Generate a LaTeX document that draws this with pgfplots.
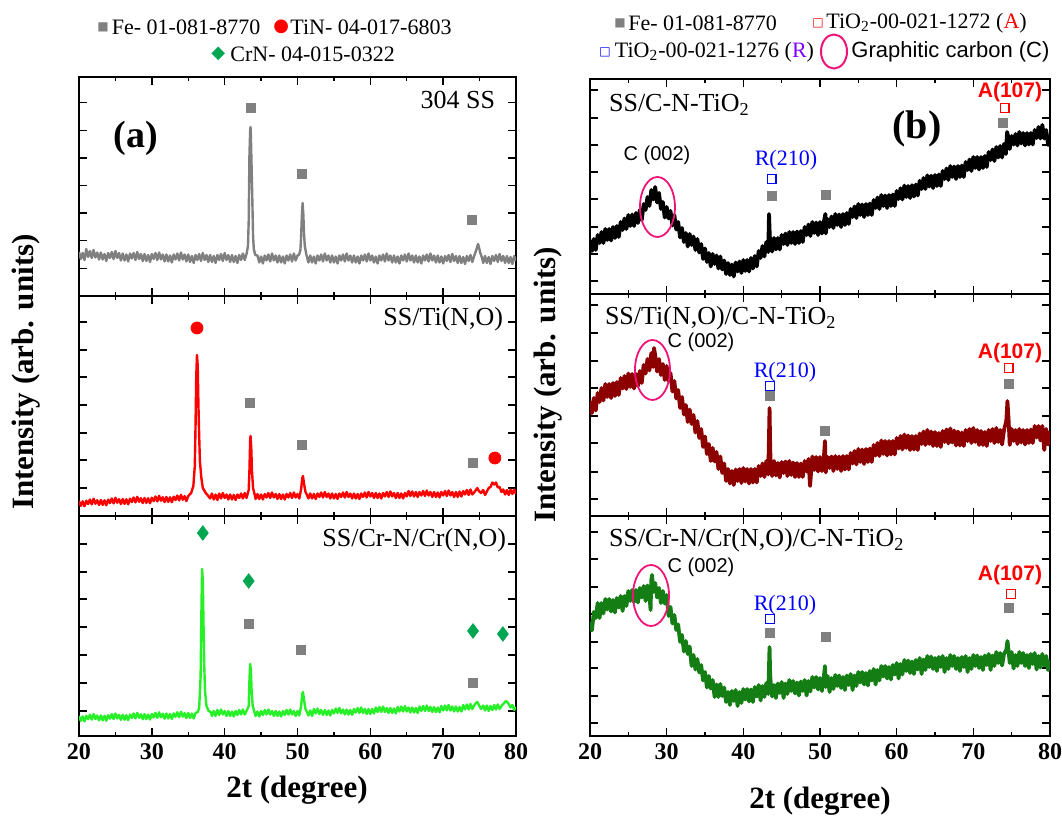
\documentclass[border=0pt]{standalone}
\usepackage{pgfplots}
\pgfplotsset{compat=1.18}
\usepackage{fontspec}
\setmainfont{Liberation Serif}
\setsansfont{Liberation Sans}
\newfontfamily\symfont{DejaVu Sans}

\definecolor{fegray}{RGB}{128,128,128}
\definecolor{tinred}{RGB}{255,0,0}
\definecolor{crgreen}{RGB}{0,166,81}
\definecolor{lgreen}{RGB}{40,240,40}
\definecolor{dred}{RGB}{140,0,0}
\definecolor{dgreen}{RGB}{20,125,20}
\definecolor{cmag}{RGB}{240,20,120}
\definecolor{rblue}{RGB}{0,0,255}
\definecolor{rpurple}{RGB}{128,0,255}

\pgfplotsset{
  xrd/.style={
    scale only axis, anchor=south west,
    xmin=20, xmax=80, ymin=0,
    xtick={20,30,...,80}, minor x tick num=1,
    tick align=inside, major tick length=4pt, minor tick length=2pt,
    yticklabels={},
    axis line style={line width=0.8pt},
    every tick/.style={black, line width=0.7pt},
    clip mode=individual,
    /pgf/number format/assume math mode=true,
    x tick label style={font=\fontsize{12}{14}\selectfont\bfseries},
  },
  notick/.style={xticklabels={}},
  left xrd/.style={line width=1.2pt, line join=round},
  right xrd/.style={line width=1.9pt, line join=round},
  fe/.style={only marks, mark=square*, mark size=2.25pt, fegray},
  tin/.style={only marks, mark=*, mark size=3pt, tinred},
  crn/.style={only marks, mark=diamond*, mark size=3.6pt, crgreen},
  rut/.style={only marks, mark=square, mark size=2.2pt, rblue, mark options={line width=0.7pt}},
  ana/.style={only marks, mark=square, mark size=2.2pt, tinred, mark options={line width=0.7pt}},
}
\tikzset{
  lab/.style={font=\fontsize{13}{15}\selectfont},
  cfont/.style={font=\sffamily\fontsize{10}{12}\selectfont},
  rfont/.style={font=\fontsize{11}{13}\selectfont, text=rblue},
  afont/.style={font=\sffamily\bfseries\fontsize{10.5}{12}\selectfont, text=tinred},
  ttl/.style={font=\fontsize{15.5}{18}\selectfont\bfseries},
}

\begin{document}
\begin{tikzpicture}
\useasboundingbox (0,0) rectangle (531pt,409pt);

% ---------- (a) top: 304 SS
\begin{axis}[xrd, notick, at={(39.5pt,261pt)}, width=218.5pt, height=109.5pt, ymax=219,
  ytick={27.6,55.2,82.8,110.4,138,165.6,193.2}]
\addplot[fegray, left xrd] coordinates {
(20,44) (20.25,37) (20.5,43) (20.75,36) (21,47) (21.25,39) (21.5,45) (21.75,38) (22,46) (22.25,38.5)
(22.5,43.5) (22.75,36.5) (23,43.5) (23.25,36.5) (23.5,42) (23.75,35) (24,43) (24.25,38) (24.5,44) (24.75,37)
(25,45) (25.25,38) (25.5,43) (25.75,35.5) (26,42.5) (26.25,35.5) (26.5,41.5) (26.75,34.5) (27,42.5) (27.25,37.5)
(27.5,43) (27.75,36) (28,44) (28.25,37) (28.5,42) (28.75,35) (29,42) (29.25,35) (29.5,41) (29.75,34)
(30,42) (30.25,37) (30.5,43) (30.75,36) (31,43.5) (31.25,36.5) (31.5,41.5) (31.75,34.5) (32,41.5) (32.25,34.5)
(32.5,40.5) (32.75,33.5) (33,41.5) (33.25,36.5) (33.5,42.5) (33.75,35.5) (34,43.5) (34.25,36.5) (34.5,41.5) (34.75,34.5)
(35,41.5) (35.25,34) (35.5,40) (35.75,33) (36,41) (36.25,36) (36.5,42) (36.75,35) (37,43) (37.25,36)
(37.5,41) (37.75,34) (38,41) (38.25,34) (38.5,40) (38.75,33) (39,41) (39.25,36) (39.5,42) (39.75,35)
(40,43) (40.25,36) (40.5,41) (40.75,34) (41,41) (41.25,34) (41.5,40) (41.75,33) (42,41) (42.25,36)
(42.5,42.5) (42.75,36) (43.0,42) (43.2,50) (43.3,75) (43.4,140) (43.5,165) (43.55,169) (43.6,160) (43.7,128)
(43.8,95) (43.9,60) (44.0,47) (44.2,41) (44.5,40.5) (44.75,33.5) (45,39.5) (45.25,32.5) (45.5,40.5) (45.75,35.5)
(46,41.5) (46.25,34.5) (46.5,42.5) (46.75,35.5) (47,40.5) (47.25,33.5) (47.5,40.5) (47.75,33.5) (48,39.5) (48.25,32.5)
(48.5,40.5) (48.75,35.5) (49,41.5) (49.25,34.5) (49.5,42.5) (49.75,35.5) (50.0,40.5) (50.2,41) (50.4,46) (50.5,60)
(50.6,80) (50.7,93) (50.8,82) (50.9,62) (51.0,50) (51.2,42) (51.5,33.5) (51.75,40.5) (52,33.5) (52.25,39.5)
(52.5,32.5) (52.75,40.5) (53,35.5) (53.25,41.5) (53.5,34.5) (53.75,42.5) (54,35.5) (54.25,40.5) (54.5,33.5) (54.75,40.5)
(55,33.5) (55.25,39.5) (55.5,32.5) (55.75,40.5) (56,35.5) (56.25,41.5) (56.5,34.5) (56.75,42.5) (57,35.5) (57.25,40.5)
(57.5,33.5) (57.75,40.5) (58,33.5) (58.25,39.5) (58.5,32.5) (58.75,40.5) (59,35.5) (59.25,41.5) (59.5,34.5) (59.75,42.5)
(60,35.5) (60.25,40.5) (60.5,33.5) (60.75,39.5) (61,32.5) (61.25,40.5) (61.5,35.5) (61.75,41.5) (62,34.5) (62.25,42.5)
(62.5,35.5) (62.75,40.5) (63,33.5) (63.25,40.5) (63.5,33.5) (63.75,39.5) (64,32.5) (64.25,40.5) (64.5,35.5) (64.75,41.5)
(65,34.5) (65.25,42.5) (65.5,35.5) (65.75,40.5) (66,33.5) (66.25,40.5) (66.5,33.5) (66.75,39.5) (67,32.5) (67.25,40.5)
(67.5,35.5) (67.75,41.5) (68,34.5) (68.25,42.5) (68.5,35.5) (68.75,40.5) (69,33.5) (69.25,40.5) (69.5,33.5) (69.75,39.5)
(70,32.5) (70.25,40) (70.5,35) (70.75,41) (71,34) (71.25,42) (71.5,35) (71.75,40) (72,33) (72.25,40)
(72.5,33) (72.75,39) (73,32) (73.25,40) (73.5,35) (73.75,41) (74,34) (74.25,40) (74.5,45) (74.7,50)
(74.8,52) (74.9,49) (75.1,43) (75.3,39) (75.5,33) (75.75,40) (76,33) (76.25,39) (76.5,32) (76.75,40)
(77,35) (77.25,41) (77.5,34) (77.75,42) (78,35) (78.25,40) (78.5,33) (78.75,40) (79,33) (79.25,39)
(79.5,32) (79.75,40) (80,35)
};
\addplot[fe] coordinates {(43.6,188) (50.6,122) (73.9,76)};
\node[lab, anchor=east] at (axis cs:78.1,196) {304 SS};
\node[font=\fontsize{19}{22}\selectfont\bfseries] at (axis cs:27.8,158) {(a)};
\end{axis}

% ---------- (a) middle: SS/Ti(N,O)
\begin{axis}[xrd, notick, at={(39.5pt,151pt)}, width=218.5pt, height=110pt, ymax=220,
  ytick={28,56,83,111,139,166,194}]
\addplot[tinred, left xrd] coordinates {
(20,15) (20.25,10.1) (20.5,14.7) (20.75,9.75) (21,15.3) (21.25,11.9) (21.5,16.5) (21.75,11.6) (22,17.2) (22.25,12.25)
(22.5,15.8) (22.75,10.9) (23,16) (23.25,11.1) (23.5,15.7) (23.75,10.75) (24,16.3) (24.25,12.9) (24.5,17.5) (24.75,12.6)
(25,18.2) (25.25,13.25) (25.5,16.8) (25.75,11.9) (26,17) (26.25,12.1) (26.5,16.7) (26.75,11.75) (27,17.3) (27.25,13.9)
(27.5,18.5) (27.75,13.6) (28,19.2) (28.25,14.25) (28.5,17.8) (28.75,12.9) (29,18) (29.25,13.1) (29.5,17.7) (29.75,12.75)
(30,18.3) (30.25,14.9) (30.5,19.5) (30.75,14.6) (31,20.2) (31.25,15.25) (31.5,18.8) (31.75,13.9) (32,19) (32.25,14.1)
(32.5,18.7) (32.75,13.75) (33,19.3) (33.25,15.9) (33.5,20.5) (33.75,15.6) (34,21.2) (34.25,16.25) (34.5,19.8) (34.75,14.9)
(35,20) (35.4,23) (35.7,30) (35.9,50) (36.0,90) (36.1,140) (36.2,161) (36.3,150) (36.4,110) (36.5,80)
(36.6,55) (36.8,38) (37.0,28) (37.4,23) (37.75,20) (38,17.5) (38.25,22.5) (38.5,16.5) (38.75,21.5) (39,16)
(39.25,22.5) (39.5,17.5) (39.75,23) (40,18) (40.25,21.5) (40.5,16.5) (40.75,21.5) (41,16.5) (41.25,21) (41.5,16)
(41.75,21.5) (42,18) (42.25,22.5) (42.5,17.5) (42.75,23) (43.0,18) (43.3,26) (43.4,45) (43.5,75) (43.55,80)
(43.65,68) (43.75,45) (43.9,28) (44.1,22) (44.25,17) (44.5,22) (44.75,17) (45,21.5) (45.25,16.5) (45.5,22)
(45.75,18.5) (46,23) (46.25,18) (46.5,23.5) (46.75,18.5) (47,22) (47.25,17) (47.5,22) (47.75,17) (48,21.5)
(48.25,16.5) (48.5,22) (48.75,18.5) (49,23) (49.25,18) (49.5,23.5) (49.75,18.5) (50,22) (50.25,17.5) (50.5,27)
(50.65,38) (50.75,40) (50.9,32) (51.1,24) (51.3,21) (51.5,17.5) (51.75,22.5) (52,17.5) (52.25,22) (52.5,17)
(52.75,22.5) (53,19) (53.25,23.5) (53.5,18.5) (53.75,24) (54,19) (54.25,22.5) (54.5,17.5) (54.75,22.5) (55,17.5)
(55.25,22) (55.5,17) (55.75,22.5) (56,19) (56.25,23.5) (56.5,18.5) (56.75,24) (57,19) (57.25,22.5) (57.5,17.5)
(57.75,22.5) (58,17.5) (58.25,22) (58.5,17) (58.75,22.5) (59,19) (59.25,23.5) (59.5,18.5) (59.75,24) (60,19.5)
(60.25,23) (60.5,18) (60.75,23) (61,18) (61.25,22.5) (61.5,17.5) (61.75,23) (62,19.5) (62.25,24) (62.5,19)
(62.75,24.5) (63,19.5) (63.25,23) (63.5,18) (63.75,23) (64,18) (64.25,22.5) (64.5,17.5) (64.75,23) (65,19.5)
(65.25,25) (65.5,20) (65.75,24.5) (66,19.5) (66.25,24) (66.5,19) (66.75,24) (67,20.5) (67.25,25) (67.5,20)
(67.75,25.5) (68,20.5) (68.25,24) (68.5,19) (68.75,24) (69,19) (69.25,23.5) (69.5,18.5) (69.75,24) (70,20.5)
(70.25,25) (70.5,20) (70.75,25.5) (71,20.5) (71.25,24) (71.5,19) (71.75,24) (72,19) (72.25,24.5) (72.5,19.5)
(72.75,25) (73,21.5) (73.25,26) (73.5,21) (73.75,26.5) (74,21.5) (74.3,24) (74.5,26) (74.7,28) (74.9,25)
(75.2,23) (75.5,26) (75.75,21) (76,24.5) (76.25,28) (76.5,29) (76.75,33.5) (77,31.5) (77.25,33.5) (77.5,28.5)
(77.75,29) (78,24) (78.25,26.5) (78.5,21.5) (78.75,26) (79,21) (79.25,26.5) (79.5,22) (79.75,26.5) (80,22)
};
\addplot[fe] coordinates {(43.5,113) (50.6,71) (74.1,53)};
\addplot[tin] coordinates {(36.2,188) (77.1,58)};
\node[lab, anchor=east] at (axis cs:79.2,197) {SS/Ti(N,O)};
\end{axis}

% ---------- (a) bottom: SS/Cr-N/Cr(N,O)
\begin{axis}[xrd, at={(39.5pt,41pt)}, width=218.5pt, height=110pt, ymax=220,
  ytick={25,53,81,109,137,164,192}]
\addplot[lgreen, left xrd] coordinates {
(20,20) (20.25,15.1) (20.5,19.6) (20.75,14.65) (21,20.2) (21.25,16.75) (21.5,21.3) (21.75,16.35) (22,21.9) (22.25,16.95)
(22.5,20.5) (22.75,15.55) (23,20.6) (23.25,15.65) (23.5,20.2) (23.75,15.25) (24,20.8) (24.25,17.35) (24.5,21.9) (24.75,16.95)
(25,22.5) (25.25,17.55) (25.5,21.1) (25.75,16.15) (26,21.2) (26.25,16.25) (26.5,20.8) (26.75,15.85) (27,21.4) (27.25,17.95)
(27.5,22.5) (27.75,17.55) (28,23.1) (28.25,18.15) (28.5,21.7) (28.75,16.75) (29,21.8) (29.25,16.85) (29.5,21.4) (29.75,16.45)
(30,22) (30.25,18.55) (30.5,23.1) (30.75,18.15) (31,23.7) (31.25,18.75) (31.5,22.3) (31.75,17.35) (32,22.4) (32.25,17.45)
(32.5,22) (32.75,17.05) (33,22.6) (33.25,19.15) (33.5,23.7) (33.75,18.75) (34,24.3) (34.25,19.35) (34.5,22.9) (34.75,17.95)
(35,23) (35.25,18) (35.5,22.5) (35.75,17.5) (36,23) (36.3,24) (36.5,28) (36.7,60) (36.8,120) (36.9,167)
(37.0,155) (37.1,110) (37.2,70) (37.3,45) (37.5,30) (37.8,25) (38.1,24) (38.25,20) (38.5,25) (38.75,20)
(39,26) (39.25,21) (39.5,26.5) (39.75,21.5) (40,25) (40.25,20) (40.5,25) (40.75,20) (41,24.5) (41.25,19.5)
(41.5,25) (41.75,21) (42,26) (42.25,21.5) (42.5,26.5) (42.75,21.5) (43.0,25) (43.3,30) (43.4,55) (43.5,72)
(43.6,66) (43.7,45) (43.85,30) (44.05,25) (44.25,20) (44.5,24.5) (44.75,19.5) (45,25) (45.25,21) (45.5,26)
(45.75,21.5) (46,26.5) (46.25,21.5) (46.5,25) (46.75,20) (47,25) (47.25,20) (47.5,24.5) (47.75,19.5) (48,25)
(48.25,21) (48.5,26) (48.75,21.5) (49,26.5) (49.25,21.5) (49.5,25) (49.75,20) (50,25) (50.25,20.5) (50.5,30)
(50.65,42) (50.75,44) (50.9,36) (51.1,27) (51.3,24) (51.5,20.5) (51.75,25.5) (52,20) (52.25,27) (52.5,22.5)
(52.75,27.5) (53,22) (53.25,26) (53.5,21) (53.75,26) (54,21) (54.25,25.5) (54.5,20.5) (54.75,26) (55,22.5)
(55.25,27.5) (55.5,23) (55.75,28) (56,22.5) (56.25,26.5) (56.5,21.5) (56.75,26.5) (57,21.5) (57.25,26) (57.5,21)
(57.75,27) (58,23.5) (58.25,28) (58.5,23) (58.75,28.5) (59,23) (59.25,27) (59.5,22) (59.75,27) (60,22)
(60.25,27) (60.5,22.5) (60.75,28.5) (61,24) (61.25,29) (61.5,24) (61.75,29.5) (62,24) (62.25,28) (62.5,23)
(62.75,28) (63,23) (63.25,27.5) (63.5,22.5) (63.75,29) (64,24.5) (64.25,29.5) (64.5,24.5) (64.75,30) (65,24.5)
(65.25,28.5) (65.5,23.5) (65.75,28.5) (66,23.5) (66.25,28) (66.5,23) (66.75,29.5) (67,25) (67.25,30) (67.5,25)
(67.75,30.5) (68,25) (68.25,29) (68.5,24) (68.75,29) (69,24) (69.25,28.5) (69.5,23.5) (69.75,30) (70,25.5)
(70.25,30.5) (70.5,25.5) (70.75,31) (71,25.5) (71.25,29.5) (71.5,24.5) (71.75,29.5) (72,24.5) (72.25,29) (72.5,24.5)
(72.75,31) (73,26.5) (73.25,31.5) (73.5,26.5) (73.75,32) (74,27) (74.3,31) (74.5,33) (74.7,34) (74.9,31)
(75.2,27) (75.5,30.5) (75.75,25.5) (76,30.5) (76.25,25) (76.5,30) (76.75,26) (77,31) (77.25,26.5) (77.5,31.5)
(77.75,27) (78.1,31) (78.4,33) (78.6,35) (78.8,34) (79.0,32) (79.25,28.5) (79.5,31) (79.75,26) (80,29)
};
\addplot[fe] coordinates {(43.3,112) (50.4,86) (74.1,53)};
\addplot[crn] coordinates {(37.0,203) (43.3,155) (74.1,105) (78.2,102)};
\node[lab, anchor=east] at (axis cs:79.6,196) {SS/Cr-N/Cr(N,O)};
\end{axis}

% ---------- (b) top: SS/C-N-TiO2
\begin{axis}[xrd, notick, at={(295pt,262pt)}, width=230pt, height=107.5pt, ymax=215,
  ytick={13,40,67,95,122,149,176,204}]
\addplot[black, right xrd] coordinates {
(20,54) (20.25,43) (20.5,55) (20.75,44) (21,59) (21.25,51) (21.5,62) (21.75,51) (22,65) (22.25,54)
(22.5,65) (22.75,53.5) (23,67) (23.25,56) (23.5,68) (23.75,57) (24,72) (24.25,64) (24.5,75.5) (24.75,65)
(25,79) (25.25,68) (25.5,79.5) (25.75,68) (26,81) (26.25,71) (26.5,84) (26.75,74) (27,90) (27.25,84)
(27.5,97) (27.75,88) (28,104) (28.25,94.5) (28.5,107) (28.75,91.5) (29,101) (29.25,85) (29.5,92) (29.75,76.5)
(30,87) (30.25,75.5) (30.5,83) (30.75,68.5) (31,79) (31.25,64.5) (31.5,72) (31.75,56.5) (32,66) (32.25,52)
(32.5,61) (32.75,47.5) (33,60) (33.25,49) (33.5,57.5) (33.75,44) (34,55) (34.25,41.5) (34.5,50) (34.75,35)
(35,45.5) (35.25,32) (35.5,41) (35.75,27.5) (36,40) (36.25,30) (36.5,38.5) (36.75,25.5) (37,37.5) (37.25,24.5)
(37.5,33.5) (37.75,20) (38,31) (38.25,19) (38.5,29.5) (38.75,17.5) (39,31.5) (39.25,22.5) (39.5,32.5) (39.75,21)
(40,34) (40.25,23) (40.5,34) (40.75,22.5) (41,36) (41.25,25.5) (41.5,38) (41.75,27.5) (42,43) (42.25,36)
(42.5,48) (42.75,37.5) (43,52) (43.25,42) (43.35,80) (43.45,58) (43.5,54) (43.75,42.5) (44,56) (44.25,44.5)
(44.5,56) (44.75,44.5) (45,59) (45.25,50) (45.5,60.5) (45.75,49) (46,62) (46.25,51) (46.5,62) (46.75,50)
(47,62.5) (47.25,51) (47.5,63) (47.75,52) (48,67) (48.25,59) (48.5,69.5) (48.75,58) (49,72) (49.25,61)
(49.5,71.5) (49.75,59) (50,72) (50.25,60.5) (50.5,72) (50.7,80) (50.75,60.5) (51,75) (51.25,67) (51.5,77.5)
(51.75,66) (52,80) (52.25,69) (52.5,79.5) (52.75,67) (53,80) (53.25,69) (53.5,81) (53.75,70) (54,85)
(54.25,77) (54.5,87.5) (54.75,76) (55,90) (55.25,79) (55.5,89.5) (55.75,77) (56,90) (56.25,79) (56.5,90.5)
(56.75,79) (57,94) (57.25,86) (57.5,96.5) (57.75,85) (58,99) (58.25,88) (58.5,98.5) (58.75,86) (59,99)
(59.25,88) (59.5,99.5) (59.75,88) (60,103) (60.25,95) (60.5,105.7) (60.75,94.5) (61,108.4) (61.25,97) (61.5,108)
(61.75,96) (62,108.8) (62.25,97.5) (62.5,109.5) (62.75,98.5) (63,113.2) (63.25,105) (63.5,116) (63.75,105) (64,118.6)
(64.25,107.5) (64.5,118.3) (64.75,106) (65,119) (65.25,108) (65.5,119.5) (65.75,108) (66,123) (66.25,115) (66.5,125.5)
(66.75,114) (67,128) (67.25,117) (67.5,127.5) (67.75,115) (68,128) (68.25,117) (68.5,128.5) (68.75,117) (69,132)
(69.25,124) (69.5,134.5) (69.75,123) (70,137) (70.25,126) (70.5,137) (70.75,124.5) (71,137) (71.25,126) (71.5,138)
(71.75,127) (72,142) (72.25,134) (72.5,144.5) (72.75,133) (73,147) (73.25,136.5) (73.5,148) (73.75,136.5) (74,150)
(74.25,140) (74.4,162) (74.5,159) (74.75,145) (75,158) (75.25,149.5) (75.5,160) (75.75,148.5) (76,162) (76.25,150.5)
(76.5,161) (76.75,148.5) (77,161) (77.25,149.5) (77.5,161) (77.75,149.5) (78,164) (78.25,156) (78.5,167) (78.75,155.5)
(79,169) (79.25,155.5) (79.5,164) (79.75,149) (80,159)
};
\addplot[fe] coordinates {(43.7,98) (50.8,99) (73.9,171)};
\addplot[rut] coordinates {(43.7,115)};
\addplot[ana] coordinates {(74.1,186)};
\draw[cmag, line width=0.9pt] (axis cs:28.8,87) ellipse [x radius=8.75pt, y radius=15pt];
\node[lab, anchor=west] at (axis cs:21.57,189) {SS/C-N-TiO\textsubscript{2}};
\node[font=\fontsize{20}{24}\selectfont\bfseries] at (axis cs:62.65,165) {(b)};
\node[cfont] at (axis cs:28.74,139) {C (002)};
\node[rfont] at (axis cs:45.56,134) {R(210)};
\node[afont] at (axis cs:74.78,202) {A(107)};
\end{axis}

% ---------- (b) middle: SS/Ti(N,O)/C-N-TiO2
\begin{axis}[xrd, notick, at={(295pt,151pt)}, width=230pt, height=111pt, ymax=222,
  ytick={17,44,73,100,128,155,183,211}]
\addplot[dred, right xrd] coordinates {
(20,115) (20.25,103) (20.5,118) (20.75,105.5) (21,123) (21.25,114) (21.5,128) (21.75,115.5) (22,132) (22.25,119)
(22.5,132) (22.75,118) (23,133) (23.25,120) (23.5,134) (23.75,121) (24,138) (24.25,127.5) (24.5,140) (24.75,127)
(25,142.5) (25.25,129) (25.5,142) (25.75,127.5) (26,142) (26.25,130) (26.5,145) (26.75,133) (27,151) (27.25,142.5)
(27.5,157) (27.75,145.5) (28,163) (28.25,149) (28.35,168) (28.5,161) (28.75,144.5) (29,157) (29.25,141) (29.5,152)
(29.75,136) (30,150) (30.25,135) (30.5,143) (30.75,124.5) (31,135) (31.25,117.5) (31.5,126) (31.75,108) (32,119)
(32.25,101.5) (32.5,111) (32.75,94) (33,106.5) (33.25,92) (33.5,101) (33.75,83.5) (34,95) (34.25,78) (34.5,87)
(34.75,69) (35,79.5) (35.25,62) (35.5,72) (35.75,55) (36,68) (36.25,54.5) (36.5,64) (36.75,47) (37,59.5)
(37.25,43) (37.5,52.5) (37.75,35) (38,47) (38.25,32.5) (38.5,45) (38.75,31) (39,46.5) (39.25,35) (39.5,47)
(39.75,33) (40,48) (40.25,34.5) (40.5,47) (40.75,32.5) (41,47) (41.25,33.5) (41.5,47) (41.75,33.5) (42,50)
(42.25,40) (42.5,52.5) (42.75,39) (43,55) (43.25,41.5) (43.35,80) (43.42,108) (43.5,70) (43.55,55) (43.75,40)
(44,55) (44.25,40.5) (44.5,53) (44.75,38.5) (45,54) (45.25,43) (45.5,54.5) (45.75,40) (46,55) (46.25,41)
(46.5,53.5) (46.75,39) (47,53) (47.25,39) (47.5,52.5) (47.75,39) (48,55) (48.25,44.5) (48.5,57) (48.7,30)
(49,59.5) (49.25,46) (49.5,59) (49.75,44.5) (50,59) (50.25,45) (50.5,58) (50.65,75) (50.75,43.5) (51,59)
(51.25,48) (51.5,59.5) (51.75,45) (52,60) (52.25,47) (52.5,59.5) (52.75,45) (53,60) (53.25,46.5) (53.5,60)
(53.75,46.5) (54,63) (54.25,52.5) (54.5,65) (54.75,51.5) (55,67) (55.25,54) (55.5,66.5) (55.75,52) (56,67)
(56.25,54) (56.5,67.5) (56.75,54) (57,71) (57.25,60.5) (57.5,73) (57.75,60) (58,75.5) (58.25,62) (58.5,75)
(58.75,60.5) (59,75) (59.25,61.5) (59.5,75) (59.75,61.5) (60,78) (60.25,67.5) (60.5,80) (60.75,66.5) (61,81.5)
(61.25,68) (61.5,80.5) (61.75,66) (62,80) (62.25,66.5) (62.5,80) (62.75,66) (63,82.5) (63.25,72) (63.5,84.5)
(63.75,71) (64,86) (64.25,72) (64.5,84.5) (64.75,70) (65,84) (65.25,70) (65.5,83) (65.75,69) (66,85)
(66.25,74) (66.5,86.5) (66.75,72.5) (67,87.5) (67.25,73.5) (67.5,85.5) (67.75,70.5) (68,84.5) (68.25,70.5) (68.5,83.5)
(68.75,70) (69,86) (69.25,75) (69.5,87) (69.75,73) (70,88) (70.25,74) (70.5,86) (70.75,71) (71,85)
(71.25,71) (71.5,84) (71.75,70) (72,86) (72.25,75) (72.5,87) (72.75,73) (73,88) (73.25,74) (73.5,86)
(73.75,71.5) (74,86) (74.3,95) (74.45,115) (74.6,96) (74.75,71) (75,87) (75.25,75) (75.5,86) (75.75,72)
(76,87) (76.25,73.5) (76.5,86) (76.75,71.5) (77,86) (77.25,73) (77.5,86.5) (77.75,73) (78,90) (78.25,78.5)
(78.5,90) (78.75,75.5) (79,90) (79.25,66) (79.5,87) (79.75,71.5) (80,85)
};
\addplot[fe] coordinates {(43.5,120) (50.7,85) (74.6,132)};
\addplot[rut] coordinates {(43.5,130)};
\addplot[ana] coordinates {(74.6,148)};
\draw[cmag, line width=0.9pt] (axis cs:28.15,146) ellipse [x radius=8.75pt, y radius=15pt];
\node[lab, anchor=west] at (axis cs:21.04,198) {SS/Ti(N,O)/C-N-TiO\textsubscript{2}};
\node[cfont] at (axis cs:34.48,174) {C (002)};
\node[rfont] at (axis cs:45.43,144) {R(210)};
\node[afont] at (axis cs:74.78,163) {A(107)};
\end{axis}

% ---------- (b) bottom: SS/Cr-N/Cr(N,O)/C-N-TiO2
\begin{axis}[xrd, at={(295pt,41pt)}, width=230pt, height=110pt, ymax=220,
  ytick={13,40,68,94,122,149,177,204}]
\addplot[dgreen, right xrd] coordinates {
(20,114) (20.25,105.5) (20.5,124) (20.75,118) (21,133) (21.25,118) (21.5,133) (21.75,122.5) (22,137) (22.25,126.5)
(22.5,137) (22.75,124.5) (23,136) (23.25,123.5) (23.5,138) (23.75,128.5) (24,140) (24.25,125) (24.5,140) (24.75,130)
(25,145) (25.25,135) (25.5,146) (25.75,134) (26,146) (26.25,133.5) (26.5,148) (26.75,138.5) (27,150) (27.25,135)
(27.5,150.5) (27.75,141) (27.9,126) (28,156) (28.1,161) (28.25,144) (28.5,153) (28.75,138.5) (29,148) (29.25,133)
(29.5,145) (29.75,132.5) (30,141) (30.25,120) (30.5,129) (30.75,112.5) (31,121) (31.25,106) (31.5,111.5) (31.75,94)
(32,101) (32.25,84.5) (32.5,95) (32.75,82) (33,89.5) (33.25,70) (33.5,81) (33.75,66.5) (34,77) (34.25,63.5)
(34.5,71) (34.75,55.5) (35,64) (35.25,48.5) (35.5,60) (35.75,47.5) (36,56) (36.25,39) (36.5,51.5) (36.75,39)
(37,52) (37.25,40) (37.5,48.5) (37.75,34) (38,44) (38.25,31) (38.5,45) (38.75,35) (39,46) (39.25,30)
(39.5,44) (39.75,33) (40,47) (40.25,36.5) (40.5,47) (40.75,34.5) (41,46.5) (41.25,34) (41.5,49) (41.75,39.5)
(42,51) (42.25,35.5) (42.5,50) (42.75,39) (43,53) (43.25,42) (43.35,70) (43.42,89) (43.5,62) (43.6,50)
(43.75,39.5) (44,51) (44.25,38) (44.5,52.5) (44.75,43) (45,54) (45.25,38) (45.5,52.5) (45.75,42) (46,56)
(46.25,45) (46.5,55) (46.75,42.5) (47,53.5) (47.25,40.5) (47.5,54.5) (47.75,45) (48,56) (48.25,40.5) (48.5,55)
(48.75,44.5) (49,59) (49.25,48.5) (49.5,59) (49.75,46.5) (50,58) (50.25,45) (50.5,59) (50.65,70) (50.75,49)
(51,60) (51.25,44) (51.5,58) (51.75,47) (52,61) (52.25,50) (52.5,60.5) (52.75,48) (53,59) (53.25,46)
(53.5,60.5) (53.75,51) (54,62) (54.25,46) (54.5,60.5) (54.75,50) (55,64) (55.25,53.5) (55.5,64) (55.75,51.5)
(56,63) (56.25,50.5) (56.5,65) (56.75,55.5) (57,67) (57.25,51.5) (57.5,66) (57.75,55.5) (58,70) (58.25,59.5)
(58.5,70) (58.75,57.5) (59,69) (59.25,56.5) (59.5,71) (59.75,61.5) (60,73) (60.25,57.5) (60.5,72) (60.75,61.5)
(61,76) (61.25,65) (61.5,75.5) (61.75,63) (62,74.5) (62.25,62) (62.5,76) (62.75,66.5) (63,78) (63.25,62)
(63.5,76.5) (63.75,66) (64,80) (64.25,69) (64.5,79.5) (64.75,67) (65,78) (65.25,65) (65.5,79) (65.75,69)
(66,80) (66.25,64) (66.5,78) (66.75,67) (67,81) (67.25,70) (67.5,80) (67.75,67) (68,78) (68.25,65)
(68.5,79) (68.75,69) (69,80) (69.25,64) (69.5,78) (69.75,67) (70,81) (70.25,70) (70.5,80.5) (70.75,68)
(71,79) (71.25,66) (71.5,80.5) (71.75,71) (72,82) (72.25,66) (72.5,80.5) (72.75,70) (73,84) (73.25,73)
(73.5,83) (73.75,70.5) (74,82) (74.3,86) (74.45,95) (74.6,85) (74.75,73) (75,84) (75.25,67.5) (75.5,81)
(75.75,70) (76,84) (76.25,73) (76.5,83) (76.75,70) (77,81) (77.25,68) (77.5,82) (77.75,72) (78,83)
(78.25,66.5) (78.5,80) (78.75,68.5) (79,82) (79.25,70.5) (79.5,80) (79.75,66) (80,76)
};
\addplot[fe] coordinates {(43.5,103) (50.8,99) (74.7,128)};
\addplot[rut] coordinates {(43.5,117)};
\addplot[ana] coordinates {(74.9,142)};
\draw[cmag, line width=0.9pt] (axis cs:27.96,140.5) ellipse [x radius=9pt, y radius=15.25pt];
\node[lab, anchor=west] at (axis cs:21.57,196) {SS/Cr-N/Cr(N,O)/C-N-TiO\textsubscript{2}};
\node[cfont] at (axis cs:34.48,169) {C (002)};
\node[rfont] at (axis cs:45.43,131) {R(210)};
\node[afont] at (axis cs:74.78,161) {A(107)};
\end{axis}

% ---------- axis titles
\node[rotate=90, ttl] at (13.25pt,223pt) {Intensity (arb. units)};
\node[rotate=90, ttl] at (274pt,216.5pt) {Intensity (arb. units)};
\node[ttl] at (148.5pt,14pt) {2t (degree)};
\node[ttl] at (410pt,8.5pt) {2t (degree)};

% ---------- legends
\begin{scope}[every node/.style={inner sep=0pt, anchor=west, font=\fontsize{11}{13}\selectfont}]
\node[text=fegray, font=\symfont\fontsize{6}{6}\selectfont] at (48.5pt,395.5pt) {■};
\node at (55.75pt,395.5pt) {Fe- 01-081-8770};
\node[text=tinred, font=\symfont\fontsize{9}{9}\selectfont] at (136.5pt,395.5pt) {●};
\node at (145pt,395.5pt) {TiN- 04-017-6803};
\node[text=crgreen, font=\symfont\fontsize{9}{9}\selectfont] at (105.5pt,382pt) {◆};
\node at (115pt,382pt) {CrN- 04-015-0322};

\node[text=fegray, font=\symfont\fontsize{6}{6}\selectfont] at (307pt,397.5pt) {■};
\node at (314pt,397.5pt) {Fe- 01-081-8770};
\node[text=tinred, font=\symfont\fontsize{6}{6}\selectfont] at (406pt,397.5pt) {□};
\node at (413pt,397.5pt) {TiO\textsubscript{2}-00-021-1272 (\textcolor{tinred}{A})};
\node[text=rblue, font=\symfont\fontsize{6}{6}\selectfont] at (299.5pt,383pt) {□};
\node at (307.25pt,383pt) {TiO\textsubscript{2}-00-021-1276 (\textcolor{rpurple}{R})};
\node[font=\sffamily\fontsize{11}{13}\selectfont] at (425.5pt,383pt) {Graphitic carbon (C)};
\end{scope}
\draw[cmag, line width=1pt] (417pt,383.25pt) ellipse [x radius=6.5pt, y radius=8.5pt];

\end{tikzpicture}
\end{document}
